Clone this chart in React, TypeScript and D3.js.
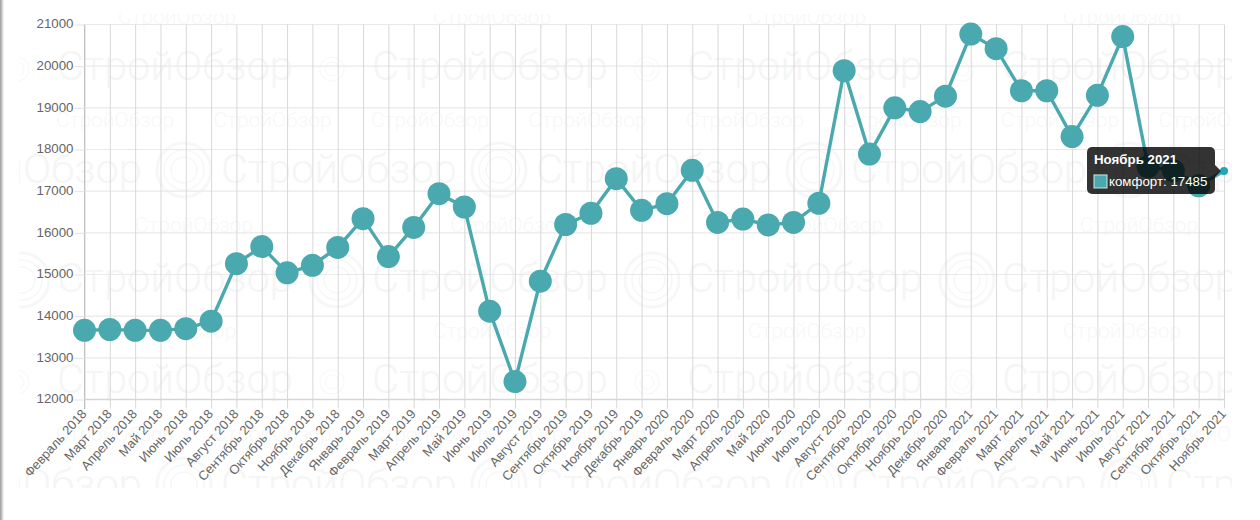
import { useEffect, useRef } from 'react';
import * as d3 from 'd3';

const labels = [
  'Февраль 2018', 'Март 2018', 'Апрель 2018', 'Май 2018', 'Июнь 2018', 'Июль 2018', 'Август 2018', 'Сентябрь 2018', 'Октябрь 2018', 'Ноябрь 2018', 'Декабрь 2018',
  'Январь 2019', 'Февраль 2019', 'Март 2019', 'Апрель 2019', 'Май 2019', 'Июнь 2019', 'Июль 2019', 'Август 2019', 'Сентябрь 2019', 'Октябрь 2019', 'Ноябрь 2019', 'Декабрь 2019',
  'Январь 2020', 'Февраль 2020', 'Март 2020', 'Апрель 2020', 'Май 2020', 'Июнь 2020', 'Июль 2020', 'Август 2020', 'Сентябрь 2020', 'Октябрь 2020', 'Ноябрь 2020', 'Декабрь 2020',
  'Январь 2021', 'Февраль 2021', 'Март 2021', 'Апрель 2021', 'Май 2021', 'Июнь 2021', 'Июль 2021', 'Август 2021', 'Сентябрь 2021', 'Октябрь 2021', 'Ноябрь 2021',
];

const komfort = [
  13660, 13680, 13660, 13660, 13700, 13880, 15260, 15670, 15040, 15220, 15650,
  16340, 15430, 16130, 16940, 16620, 14120, 12430, 14840, 16200, 16470, 17300, 16540,
  16700, 17500, 16250, 16330, 16190, 16250, 16710, 19890, 17890, 19000, 18910, 19280,
  20770, 20420, 19410, 19410, 18310, 19300, 20710, 17590, 17490, 17130, 17485,
];

const yTicks = [12000, 13000, 14000, 15000, 16000, 17000, 18000, 19000, 20000, 21000];

const TEAL = '#4aa8af';
const WM = '#f5f5f5';
const WM_TEXT = 'СтройОбзор';

// водяной знак: строки большого и мелкого текста, шаг плитки 315
const bigRows = [
  { y: 80, start: 57 },
  { y: 183, start: -94 },
  { y: 292, start: 57 },
  { y: 393, start: 57 },
  { y: 498, start: -94 },
];
const smallRows = [
  { y: 24, start: 118, step: 315 },
  { y: 127, start: 56, step: 157.5 },
  { y: 232, start: 135, step: 315 },
  { y: 338, start: 118, step: 315 },
  { y: 441, start: 56, step: 157.5 },
];
const bigLogos = [
  { y: 170, start: 184 },
  { y: 280, start: 22 },
  { y: 485, start: 184 },
];
const smallLogos = [
  { y: 69, start: 17 },
  { y: 382, start: 17 },
];

export default function App() {
  const ref = useRef<SVGSVGElement | null>(null);

  useEffect(() => {
    const svg = d3.select(ref.current);
    svg.selectAll('*').remove();

    const x = d3.scalePoint<string>().domain(labels).range([84.5, 1224]);
    const y = d3.scaleLinear().domain([12000, 21000]).range([399.5, 24.5]);

    const defs = svg.append('defs');
    const grad = defs.append('linearGradient').attr('id', 'edge');
    grad.append('stop').attr('offset', 0).attr('stop-color', '#9a9a9a');
    grad.append('stop').attr('offset', 0.45).attr('stop-color', '#c4c4c4');
    grad.append('stop').attr('offset', 1).attr('stop-color', '#ffffff');
    defs.append('clipPath').attr('id', 'wm').append('rect')
      .attr('x', 19).attr('y', 14).attr('width', 1213).attr('height', 474);

    svg.append('rect').attr('width', 1260).attr('height', 520).attr('fill', '#fff');
    svg.append('rect').attr('width', 4).attr('height', 520).attr('fill', 'url(#edge)');

    // Водяной знак
    const wm = svg.append('g').attr('clip-path', 'url(#wm)')
      .attr('font-family', 'Roboto, "Open Sans", sans-serif')
      .attr('font-weight', 300)
      .attr('fill', WM);

    bigRows.forEach(r => {
      for (let tx = r.start; tx < 1240; tx += 315) {
        wm.append('text').attr('x', tx).attr('y', r.y)
          .attr('font-size', 41).attr('textLength', 236).attr('lengthAdjust', 'spacingAndGlyphs')
          .text(WM_TEXT);
      }
    });
    smallRows.forEach(r => {
      for (let tx = r.start; tx < 1240; tx += r.step) {
        wm.append('text').attr('x', tx).attr('y', r.y)
          .attr('font-size', 20.5).attr('textLength', 118).attr('lengthAdjust', 'spacingAndGlyphs')
          .attr('fill', '#f7f7f7')
          .text(WM_TEXT);
      }
    });
    bigLogos.forEach(l => {
      for (let cx = l.start; cx < 1240; cx += 315) {
        [27, 20, 13].forEach((rad, i) => {
          wm.append('circle').attr('cx', cx).attr('cy', l.y).attr('r', rad)
            .attr('fill', 'none').attr('stroke', '#f7f7f7').attr('stroke-width', i === 0 ? 3 : 1.5);
        });
      }
    });
    smallLogos.forEach(l => {
      for (let cx = l.start; cx < 1240; cx += 315) {
        [12, 7].forEach(rad => {
          wm.append('circle').attr('cx', cx).attr('cy', l.y).attr('r', rad)
            .attr('fill', 'none').attr('stroke', '#f8f8f8').attr('stroke-width', 1.2);
        });
      }
    });

    // Оси и сетка
    const axisY = svg.append('g')
      .attr('transform', 'translate(84.5,0)')
      .call(d3.axisLeft(y).tickValues(yTicks).tickSize(10).tickPadding(1).tickFormat(d => String(d)));
    axisY.select('.domain').attr('stroke', '#a8a8a8').attr('d', 'M0,24.5V409');
    axisY.selectAll('.tick line').attr('stroke', '#e2e2e2');
    axisY.selectAll('text')
      .attr('font-family', '"Liberation Sans", Arial, sans-serif')
      .attr('font-size', 13.3)
      .attr('y', -1)
      .attr('fill', '#666');

    svg.append('g').selectAll('line').data(yTicks).join('line')
      .attr('x1', 84.5).attr('x2', 1224)
      .attr('y1', d => y(d)).attr('y2', d => y(d))
      .attr('stroke', d => (d === 12000 ? '#d6d6d6' : '#e9e9e9'))
      .attr('stroke-width', d => (d === 12000 ? 1.6 : 1.2));

    const axisX = svg.append('g')
      .attr('transform', 'translate(0,399.5)')
      .call(d3.axisBottom(x).tickSize(9).tickPadding(0));
    axisX.select('.domain').remove();
    axisX.selectAll('.tick line')
      .attr('y1', -375).attr('stroke', '#d8d8d8');
    axisX.selectAll('text')
      .attr('font-family', '"Liberation Sans", Arial, sans-serif')
      .attr('font-size', 13)
      .attr('fill', '#666')
      .attr('text-anchor', 'end')
      .attr('dy', '0.55em')
      .attr('transform', 'translate(-3,10) rotate(-48)')
      .attr('y', 0);

    // Линия и точки
    const line = d3.line<number>()
      .x((_, i) => x(labels[i]) as number)
      .y(d => y(d));

    svg.append('path').datum(komfort)
      .attr('fill', 'none')
      .attr('stroke', TEAL)
      .attr('stroke-width', 3.4)
      .attr('d', line);

    svg.append('g').selectAll('circle').data(komfort).join('circle')
      .attr('cx', (_, i) => x(labels[i]) as number)
      .attr('cy', d => y(d))
      .attr('r', (_, i) => (i === komfort.length - 1 ? 4 : 11.5))
      .attr('fill', (_, i) => (i === komfort.length - 1 ? '#1fa8b6' : TEAL));

    // Подсказка к последней точке
    const lastI = komfort.length - 1;
    const px = x(labels[lastI]) as number;
    const py = y(komfort[lastI]);
    const tip = svg.append('g').attr('font-family', '"Liberation Sans", Arial, sans-serif');
    tip.append('rect')
      .attr('x', px - 137).attr('y', py - 24)
      .attr('width', 128).attr('height', 47).attr('rx', 5)
      .attr('fill', 'rgba(0,0,0,0.8)');
    tip.append('path')
      .attr('d', `M${px - 9},${py - 6}L${px - 3},${py}L${px - 9},${py + 6}Z`)
      .attr('fill', 'rgba(0,0,0,0.8)');
    tip.append('text')
      .attr('x', px - 130).attr('y', py - 7)
      .attr('font-size', 13.3).attr('font-weight', 700).attr('fill', '#fff')
      .text(labels[lastI]);
    tip.append('rect')
      .attr('x', px - 130).attr('y', py + 4)
      .attr('width', 13).attr('height', 13)
      .attr('fill', TEAL).attr('stroke', '#cfe6e8').attr('stroke-width', 1);
    tip.append('text')
      .attr('x', px - 115).attr('y', py + 15)
      .attr('font-size', 13.3).attr('fill', '#fff')
      .text(`комфорт: ${komfort[lastI]}`);
  }, []);

  return (
    <svg
      ref={ref}
      width={1260}
      height={520}
      style={{ position: 'absolute', left: 0, top: 0, display: 'block' }}
    />
  );
}
